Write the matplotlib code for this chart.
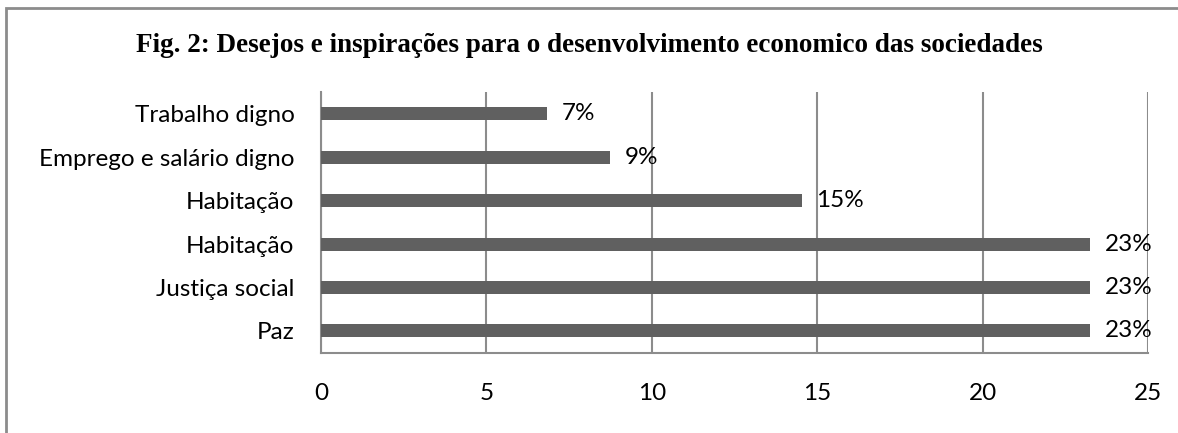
import matplotlib
matplotlib.use("Agg")
import matplotlib.pyplot as plt
from matplotlib.patches import Rectangle

# dados (de cima para baixo)
categories = ["Trabalho digno", "Emprego e salário digno", "Habitação",
              "Habitação", "Justiça social", "Paz"]
values = [6.82, 8.74, 14.53, 23.25, 23.25, 23.25]
value_labels = ["7%", "9%", "15%", "23%", "23%", "23%"]
xticks = [0, 5, 10, 15, 20, 25]

title = "Fig. 2: Desejos e inspirações para o desenvolvimento economico das sociedades"

grid_col = "#8c8c8c"
bar_col = "#606060"
fs = 17.5

fig = plt.figure(figsize=(11.78, 4.33), dpi=100)
ax = fig.add_axes([321 / 1178, 1 - 352.7 / 433, 827 / 1178, 260.7 / 433])

y = list(range(len(categories)))[::-1]
ax.barh(y, values, height=0.3, color=bar_col, zorder=3)

for yi, v, lab in zip(y, values, value_labels):
    ax.text(v + 0.45, yi, lab, va="center", ha="left", fontsize=fs,
            family="Lato", zorder=4)

ax.set_xlim(0, 25)
ax.set_ylim(-0.5, len(categories) - 0.5)
ax.set_xticks(xticks)
ax.set_xticklabels([str(t) for t in xticks], fontsize=fs, family="Lato")
ax.set_yticks(y)
ax.set_yticklabels(categories, fontsize=fs, family="Lato")
ax.tick_params(axis="x", length=0, pad=22)
ax.tick_params(axis="y", length=0, pad=19)

ax.grid(axis="x", color=grid_col, linewidth=1.5, zorder=1)
for s in ["top", "right"]:
    ax.spines[s].set_visible(False)
for s in ["left", "bottom"]:
    ax.spines[s].set_color(grid_col)
    ax.spines[s].set_linewidth(1.5)

fig.text(0.5, 1 - 46 / 433, title, ha="center", va="center",
         fontsize=19.5, fontweight="bold", family="Liberation Serif")

# moldura da figura (cortada à direita e embaixo)
fig.patches.append(Rectangle((6 / 1178, -0.1), 1.1, 1.1 - 8 / 433,
                             transform=fig.transFigure, fill=False,
                             edgecolor=grid_col, linewidth=2))

fig.savefig("out.png", dpi=100)
